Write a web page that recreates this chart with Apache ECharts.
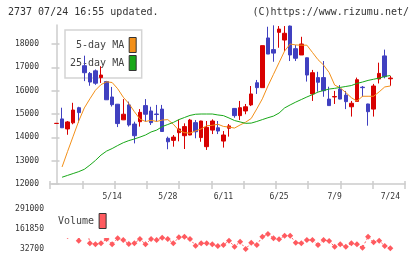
<!DOCTYPE html>
<html>
<head>
<meta charset="utf-8">
<script src="https://cdn.jsdelivr.net/npm/echarts@6/dist/echarts.min.js"></script>
<style>
  html, body { margin: 0; padding: 0; background: #fff; }
  #chart { width: 420px; height: 259px; }
</style>
</head>
<body>
<div id="chart"></div>
<script>
// trading days shown (2019)
var dates = ['4/22','4/23','4/24','4/25','4/26','5/7','5/8','5/9','5/10','5/13',
  '5/14','5/15','5/16','5/17','5/20','5/21','5/22','5/23','5/24','5/27',
  '5/28','5/29','5/30','5/31','6/3','6/4','6/5','6/6','6/7','6/10',
  '6/11','6/12','6/13','6/14','6/17','6/18','6/19','6/20','6/21','6/24',
  '6/25','6/26','6/27','6/28','7/1','7/2','7/3','7/4','7/5','7/8',
  '7/9','7/10','7/11','7/12','7/16','7/17','7/18','7/19','7/22','7/23','7/24'];
var labelDates = ['5/14','5/28','6/11','6/25','7/9','7/24'];

var open = [14595,14790,14360,14620,15270,17070,16740,16850,16560,16390,
  15730,15420,14750,15390,14570,14670,15360,15130,15000,15210,
  13960,13870,14200,14070,14100,14630,13990,13600,14310,14410,
  13840,14390,15240,14930,15130,15390,16340,16130,18260,17760,
  18500,18170,18770,17800,17530,17410,15860,16560,16560,15640,
  15730,16070,15810,15310,15540,16150,15430,15210,16500,17490,16510];
var close = [14600,14410,14660,15170,15060,16770,16370,16320,16670,15610,
  15400,14590,14990,14530,14070,15070,14990,14630,14980,14250,
  13810,14010,14360,14460,14740,14240,14700,14430,14700,14270,
  14100,14490,14930,15270,15310,15860,16130,17930,17570,17610,
  18640,18460,17530,17390,18000,16670,16770,16360,16000,15360,
  15750,15640,15530,15460,16470,16130,15100,16200,16740,16600,16540];
var low = [14595,14400,14110,14560,14630,16410,16210,16250,16330,15600,
  15320,14440,14740,14460,13740,14460,14670,14530,14670,14240,
  13490,13600,13830,13500,14090,13960,13810,13460,14140,14140,
  13560,14030,14840,14740,14990,15340,15860,16130,17570,17240,
  17840,17700,17270,17270,17530,16390,15560,15960,15740,15350,
  15430,15630,15210,14890,15530,15740,14500,14890,16310,16530,16210];
var high = [14605,15270,14700,15480,15310,17500,16800,16910,17050,16420,
  16160,15430,15640,15530,14670,15210,15640,15310,15390,15390,
  14030,14100,14760,14600,14790,14740,14710,14700,14770,14700,
  14270,14570,15250,15560,15430,16200,16460,17930,18740,18800,
  18770,18770,18790,17960,18310,17420,16890,16810,17270,16170,
  15990,16240,15990,15560,16560,16200,15440,16290,17200,17760,16630];

var ma5 = [null,12730,13400,14050,14700,15260,15650,16020,16260,16380,
  16350,16080,15720,15450,15100,14780,14680,14730,14680,14740,
  14760,14560,14300,14200,14180,14276,14362,14500,14514,14562,
  14468,14440,14398,14530,14650,14810,15220,15650,16200,16700,
  17200,17700,18000,17960,17950,17950,17640,17330,17100,16780,
  16240,16120,15920,15700,15550,15760,15760,15760,15950,16160,16200];
var ma25 = [null,12290,12370,12450,12530,12630,12810,13010,13240,13410,
  13520,13650,13770,13860,13930,14010,14100,14230,14310,14460,
  14550,14640,14760,14850,14940,14990,15000,15000,15000,14960,
  14930,14830,14720,14660,14600,14610,14680,14760,14840,14910,
  15040,15260,15390,15510,15620,15730,15830,15940,16010,16070,
  16100,16140,16180,16220,16310,16370,16440,16490,16540,16610,16650];

var volume = [190000,230000,116000,291000,86300,250000,69500,63000,69500,97300,
  63000,101800,90800,65000,69500,97300,63000,97300,90800,105700,
  97300,69500,108200,112100,97300,54000,69500,69500,63000,52100,
  58500,86300,47600,79800,32700,73400,58500,112100,129600,101800,
  95300,118600,118600,73400,69500,90800,90800,58500,90800,84400,
  47600,63000,47600,69500,63000,41100,112100,76000,86300,52100,37200];

var priceTicks = [12000,13000,14000,15000,16000,17000,18000];
var volumeTicks = [32700,161850,291000];

var xMin = -1.17, xMax = 62.64;
var yMin = 12000, yMax = 18815;

var candles = dates.map(function (d, i) {
  return [i, open[i], close[i], low[i], high[i]];
});
var labelIdx = labelDates.map(function (d) { return dates.indexOf(d); });
var frameTicks = [];
for (var k = 0; k <= 11; k++) frameTicks.push(xMin + (xMax - xMin) * k / 11 + (k === 11 ? -0.001 : 0.001));

var mono = 'DejaVu Sans Mono';
var axisGray = '#cccccc';
var plain = function (v) { return String(v); };

var chart = echarts.init(document.getElementById('chart'));
var option = {
  animation: false,
  backgroundColor: '#ffffff',
  title: [
    { text: '2737 07/24 16:55 updated.', left: 8, top: 7, padding: 0,
      textStyle: { fontFamily: mono, fontSize: 10, fontWeight: 'normal', color: '#333' } },
    { text: '(C)https://www.rizumu.net/', right: 11, top: 7, padding: 0,
      textStyle: { fontFamily: mono, fontSize: 10, fontWeight: 'normal', color: '#333' } }
  ],
  legend: [
    { data: ['5-day MA', '25-day MA'], orient: 'vertical', align: 'right',
      left: 65, top: 30, padding: [7, 5, 7, 5], itemGap: 2, itemWidth: 7, itemHeight: 15,
      icon: 'rect', selectedMode: false, z: 1,
      borderColor: '#d4d4d4', borderWidth: 1.5, backgroundColor: '#fff',
      itemStyle: { borderColor: '#333', borderWidth: 1 },
      textStyle: { fontFamily: mono, fontSize: 10, color: '#444' } },
    { data: ['Volume'], orient: 'vertical', align: 'right',
      left: 53, top: 203, padding: [10, 2, 9, 5], itemWidth: 7, itemHeight: 15,
      icon: 'rect', selectedMode: false, z: 10, backgroundColor: '#fff',
      itemStyle: { borderColor: '#333', borderWidth: 1 },
      textStyle: { fontFamily: mono, fontSize: 10, color: '#444' } }
  ],
  grid: [
    { left: 50, top: 25, width: 355, height: 159 },
    { left: 50, top: 209, width: 355, height: 40 }
  ],
  xAxis: [
    { type: 'value', gridIndex: 0, min: xMin, max: xMax, position: 'bottom',
      splitLine: { show: false },
      axisLine: { lineStyle: { color: axisGray, width: 1.5 } },
      axisTick: { length: 5, customValues: frameTicks, lineStyle: { color: axisGray, width: 1.5 } },
      axisLabel: { customValues: labelIdx, margin: 9, fontFamily: mono, fontSize: 8, color: '#333',
        formatter: function (v) { return dates[Math.round(v)]; } } },
    { type: 'value', gridIndex: 0, min: xMin, max: xMax, position: 'bottom',
      splitLine: { show: false }, axisLine: { show: false }, axisLabel: { show: false },
      axisTick: { inside: true, length: 3, customValues: frameTicks, lineStyle: { color: axisGray, width: 1.5 } } },
    { type: 'value', gridIndex: 1, min: xMin, max: xMax, show: false }
  ],
  yAxis: [
    { type: 'value', gridIndex: 0, min: yMin, max: yMax, position: 'left',
      splitLine: { show: false },
      axisLine: { show: true, lineStyle: { color: axisGray, width: 1.5 } },
      axisTick: { show: true, length: 5, customValues: priceTicks, lineStyle: { color: axisGray, width: 1.5 } },
      axisLabel: { customValues: priceTicks, margin: 11, fontFamily: mono, fontSize: 8, color: '#333', formatter: plain } },
    { type: 'value', gridIndex: 0, min: yMin, max: yMax, position: 'left',
      splitLine: { show: false }, axisLine: { show: false }, axisLabel: { show: false },
      axisTick: { show: true, inside: true, length: 3, customValues: priceTicks, lineStyle: { color: axisGray, width: 1.5 } } },
    { type: 'value', gridIndex: 1, min: 32700, max: 291000, position: 'left',
      splitLine: { show: false }, axisLine: { show: false }, axisTick: { show: false },
      axisLabel: { customValues: volumeTicks, margin: 6, fontFamily: mono, fontSize: 8, color: '#333', formatter: plain } }
  ],
  series: [
    { name: 'price', type: 'candlestick', xAxisIndex: 0, yAxisIndex: 0, barWidth: 4,
      data: candles, z: 3,
      itemStyle: { color: '#d80000', color0: '#4040c0', borderColor: '#d80000', borderColor0: '#4040c0', borderWidth: 1 } },
    { name: '5-day MA', type: 'line', xAxisIndex: 0, yAxisIndex: 0, showSymbol: false, z: 4,
      data: ma5.map(function (v, i) { return [i, v]; }),
      itemStyle: { color: '#f39019' }, lineStyle: { color: '#f39019', width: 1 } },
    { name: '25-day MA', type: 'line', xAxisIndex: 0, yAxisIndex: 0, showSymbol: false, z: 4,
      data: ma25.map(function (v, i) { return [i, v]; }),
      itemStyle: { color: '#18a818' }, lineStyle: { color: '#18a818', width: 1 } },
    { name: 'Volume', type: 'line', xAxisIndex: 2, yAxisIndex: 2, symbol: 'diamond', symbolSize: 6,
      clip: false, z: 3,
      data: volume.map(function (v, i) { return [i, v]; }),
      itemStyle: { color: '#ff5a5f' }, lineStyle: { color: '#ff5a5f', width: 1, type: [2, 2] } }
  ]
};
chart.setOption(option);
</script>
</body>
</html>
